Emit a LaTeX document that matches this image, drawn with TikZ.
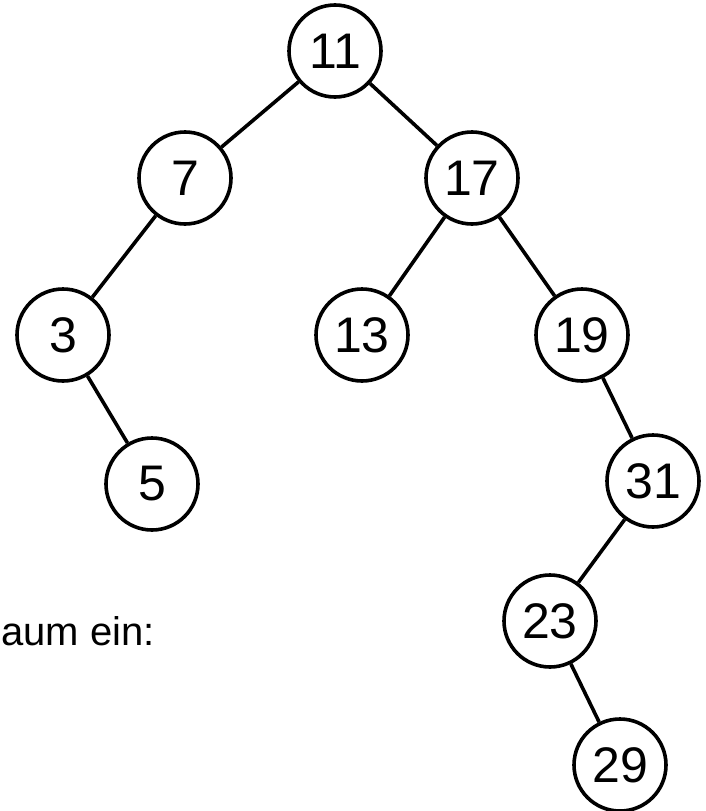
\documentclass[tikz,border=0pt]{standalone}
\usepackage{fontspec}
\setmainfont{Liberation Sans}
\begin{document}
\begin{tikzpicture}[x=1pt,y=-1pt,
  knot/.style={circle,draw,line width=3.6pt,minimum size=92pt,inner sep=0pt,font=\fontsize{50}{54}\selectfont},
  edge/.style={line width=3.6pt}]
\useasboundingbox (0,0) rectangle (706,811);
\node[knot] (n11) at (335,51) {11};
\node[knot] (n7) at (185,178) {7};
\node[knot] (n17) at (472,178) {17};
\node[knot] (n3) at (63,335) {3};
\node[knot] (n13) at (362,335) {13};
\node[knot] (n19) at (582,335) {19};
\node[knot] (n5) at (152,484) {5};
\node[knot] (n31) at (653,481) {31};
\node[knot] (n23) at (550,621) {23};
\node[knot] (n29) at (620,765) {29};
\node[anchor=base east,inner sep=0pt,font=\fontsize{40}{44}\selectfont] (txt) at (155,645) {aum ein:};
\draw[edge] (n11) -- (n7);
\draw[edge] (n11) -- (n17);
\draw[edge] (n7) -- (n3);
\draw[edge] (n3) -- (n5);
\draw[edge] (n17) -- (n13);
\draw[edge] (n17) -- (n19);
\draw[edge] (n19) -- (n31);
\draw[edge] (n31) -- (n23);
\draw[edge] (n23) -- (n29);
\end{tikzpicture}
\end{document}
